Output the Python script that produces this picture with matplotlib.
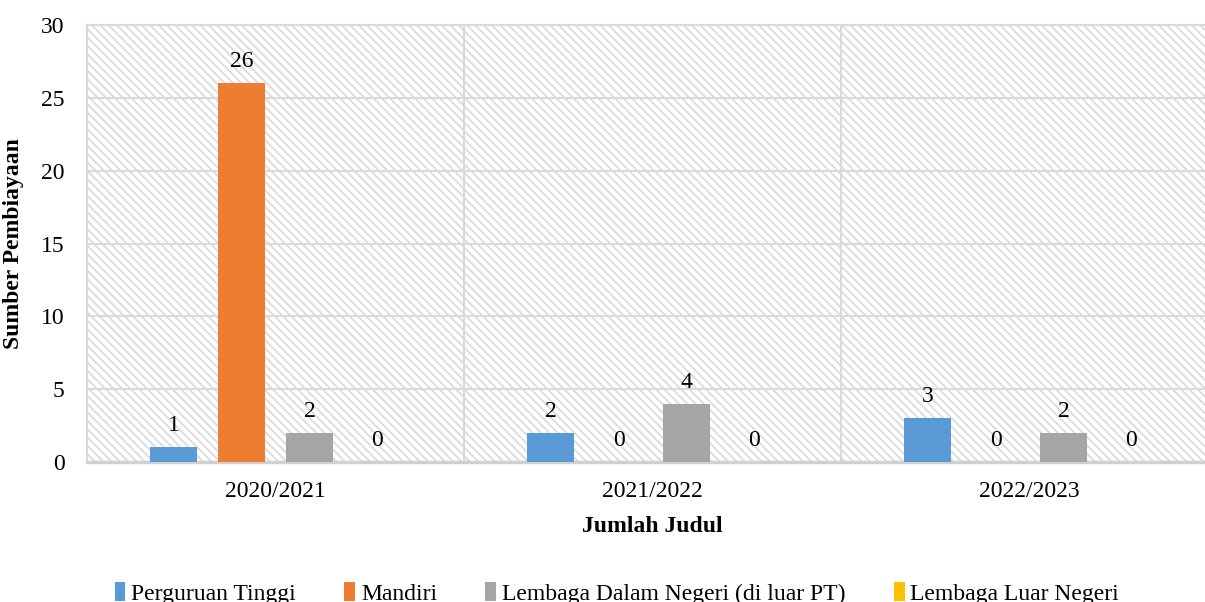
import numpy as np
import matplotlib.pyplot as plt
from matplotlib.patches import Rectangle, Patch

# data
years = ['2020/2021', '2021/2022', '2022/2023']
series_names = ['Perguruan Tinggi', 'Mandiri',
                'Lembaga Dalam Negeri (di luar PT)', 'Lembaga Luar Negeri']
perguruan_tinggi = [1, 2, 3]
mandiri = [26, 0, 0]
lembaga_dalam = [2, 4, 2]
lembaga_luar = [0, 0, 0]

colors = ['#5B9BD5', '#ED7D31', '#A5A5A5', '#FFC000']
grid_color = '#d9d9d9'

plt.rcParams['font.family'] = ['Liberation Serif', 'DejaVu Serif']
plt.rcParams['hatch.linewidth'] = 1.2

fig = plt.figure(figsize=(12.05, 6.02), dpi=100)
# plot area runs past the right edge of the picture, as in the reference
ax = fig.add_axes([87 / 1205, 1 - 462 / 602, 3 * 377 / 1205, (462 - 25) / 602])

# hatched plot-area background
bg = Rectangle((0, 0), 1, 1, transform=ax.transAxes, fill=False,
               hatch='\\\\\\\\', edgecolor=grid_color, linewidth=0, zorder=0)
ax.add_patch(bg)

x = np.arange(len(years))
step = 0.18
width = 0.125
all_series = [perguruan_tinggi, mandiri, lembaga_dalam, lembaga_luar]
for i, (vals, col) in enumerate(zip(all_series, colors)):
    pos = x + (i - 1.5) * step
    ax.bar(pos, vals, width=width, color=col, zorder=3)
    for px, v in zip(pos, vals):
        ax.annotate(str(v), (px, v), xytext=(0, 8), textcoords='offset points',
                    ha='center', va='bottom', fontsize=17)

ax.set_xlim(-0.5, 2.5)
ax.set_ylim(0, 30)
ax.set_yticks(np.arange(0, 31, 5))
ax.set_xticks(x)
ax.set_xticklabels(years)

# gridlines: horizontal at each tick, vertical between categories
ax.yaxis.grid(True, color=grid_color, linewidth=1.5, zorder=1)
for b in [0.5, 1.5]:
    ax.axvline(b, color=grid_color, linewidth=1.5, zorder=1)
ax.set_axisbelow(True)

for side in ['top', 'right', 'left']:
    ax.spines[side].set_color(grid_color)
    ax.spines[side].set_linewidth(1.5)
ax.spines['bottom'].set_color('#d0d0d0')
ax.spines['bottom'].set_linewidth(2.5)

ax.tick_params(axis='both', length=0, labelsize=17)
ax.tick_params(axis='y', pad=16)
ax.tick_params(axis='x', pad=14)

ax.set_xlabel('Jumlah Judul', fontsize=17, fontweight='bold', labelpad=10)
ax.set_ylabel('Sumber Pembiayaan', fontsize=17, fontweight='bold', labelpad=12)

handles = [Patch(facecolor=c, edgecolor='none') for c in colors]
fig.legend(handles, series_names, loc='lower center', ncol=4,
           bbox_to_anchor=(0.512, -0.04), frameon=False, fontsize=17,
           handlelength=0.45, handleheight=0.9, handletextpad=0.25,
           columnspacing=2.05)

fig.savefig('out.png', dpi=100)
